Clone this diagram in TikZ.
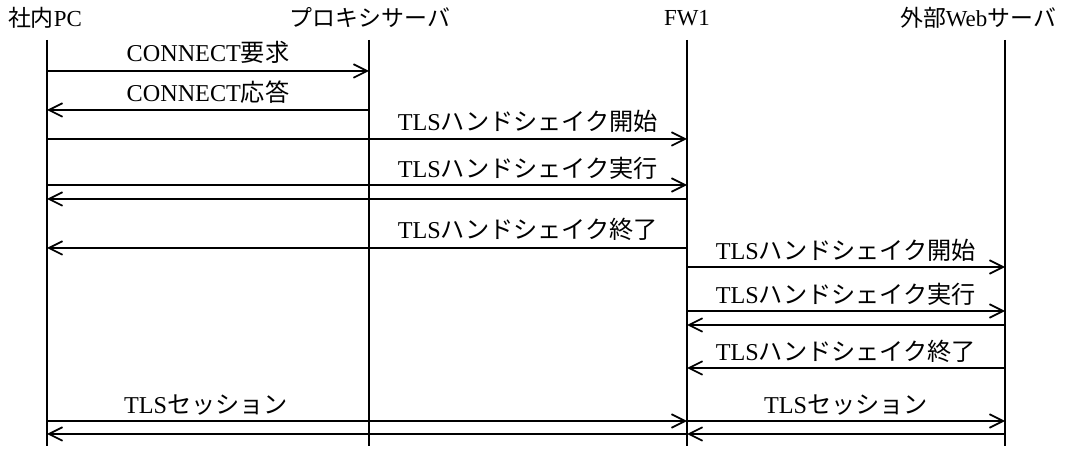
\documentclass[tikz,border=0pt]{standalone}
\usepackage{fontspec}
\setmainfont{Liberation Serif}
\newfontfamily\jpfont{Noto Sans CJK JP}
\usetikzlibrary{arrows.meta}
\newcommand{\ja}[1]{{\jpfont #1}}

\begin{document}
\begin{tikzpicture}[
  x=0.025cm,y=-0.025cm,
  actor/.style={inner sep=0pt,font=\fontsize{16.3}{19}\selectfont},
  msg/.style={inner sep=0pt,font=\fontsize{17.2}{20}\selectfont},
  life/.style={line width=1pt},
  arr/.style={-{Straight Barb[length=3.4mm,width=3.4mm]},line width=1.2pt}
]
\useasboundingbox (0,0) rectangle (1074,452);

% participants
\node[actor] (pc) at (45,18) {\ja{社内}PC};
\node[actor] (px) at (370,18) {\ja{プロキシサーバ}};
\node[actor] (fw) at (687,18) {FW1};
\node[actor] (web) at (978,18) {\ja{外部}Web\ja{サーバ}};

% lifelines
\coordinate (pcT) at (47,40);   \coordinate (pcB) at (47,446);
\coordinate (pxT) at (369,40);  \coordinate (pxB) at (369,446);
\coordinate (fwT) at (687,40);  \coordinate (fwB) at (687,446);
\coordinate (webT) at (1005,40); \coordinate (webB) at (1005,446);
\draw[life] (pcT) -- (pcB);
\draw[life] (pxT) -- (pxB);
\draw[life] (fwT) -- (fwB);
\draw[life] (webT) -- (webB);

% message rows
\coordinate (r1) at (0,71);
\coordinate (r2) at (0,110);
\coordinate (r3) at (0,139);
\coordinate (r4) at (0,185);
\coordinate (r5) at (0,199);
\coordinate (r6) at (0,248);
\coordinate (r7) at (0,267);
\coordinate (r8) at (0,311);
\coordinate (r9) at (0,325);
\coordinate (r10) at (0,368);
\coordinate (r11) at (0,421);
\coordinate (r12) at (0,434);

% PC <-> proxy
\node[msg] (req) at (208,52) {CONNECT\ja{要求}};
\node[msg] (res) at (208,92) {CONNECT\ja{応答}};
\draw[arr] (pcT |- r1) -- (pxT |- r1);
\draw[arr] (pxT |- r2) -- (pcT |- r2);

% PC <-> FW1 handshake
\node[msg] (hs1) at (528,121) {TLS\ja{ハンドシェイク開始}};
\node[msg] (hs2) at (528,168) {TLS\ja{ハンドシェイク実行}};
\node[msg] (hs3) at (528,229) {TLS\ja{ハンドシェイク終了}};
\draw[arr] (pcT |- r3) -- (fwT |- r3);
\draw[arr] (pcT |- r4) -- (fwT |- r4);
\draw[arr] (fwT |- r5) -- (pcT |- r5);
\draw[arr] (fwT |- r6) -- (pcT |- r6);

% FW1 <-> web server handshake
\node[msg] (hs4) at (846,250) {TLS\ja{ハンドシェイク開始}};
\node[msg] (hs5) at (846,294) {TLS\ja{ハンドシェイク実行}};
\node[msg] (hs6) at (846,351) {TLS\ja{ハンドシェイク終了}};
\draw[arr] (fwT |- r7) -- (webT |- r7);
\draw[arr] (fwT |- r8) -- (webT |- r8);
\draw[arr] (webT |- r9) -- (fwT |- r9);
\draw[arr] (webT |- r10) -- (fwT |- r10);

% sessions
\node[msg] (ses1) at (206,405) {TLS\ja{セッション}};
\node[msg] (ses2) at (846,405) {TLS\ja{セッション}};
\draw[arr] (pcT |- r11) -- (fwT |- r11);
\draw[arr] (fwT |- r12) -- (pcT |- r12);
\draw[arr] (fwT |- r11) -- (webT |- r11);
\draw[arr] (webT |- r12) -- (fwT |- r12);
\end{tikzpicture}
\end{document}
